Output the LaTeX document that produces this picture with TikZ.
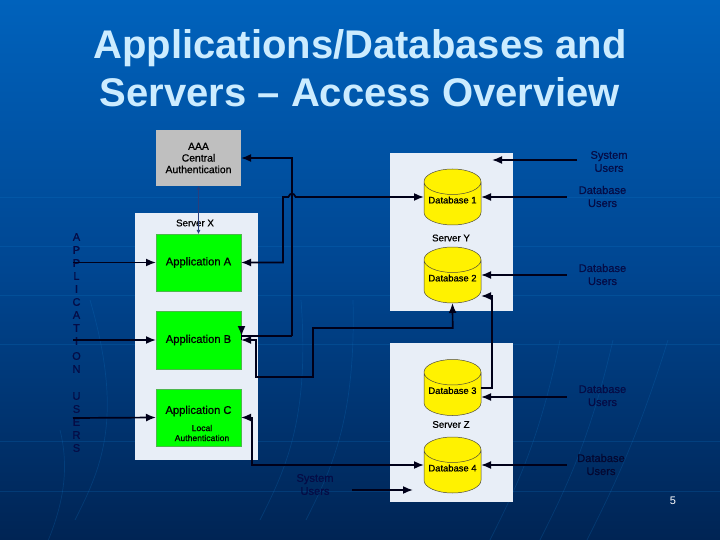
\documentclass[tikz,border=0pt]{standalone}
\usepackage{fontspec}
\setmainfont{Liberation Sans}
\newfontfamily\diafont[FakeBold=0.7]{Liberation Sans}
\usetikzlibrary{arrows.meta,shapes.geometric}
\definecolor{slidetop}{RGB}{0,98,188}
\definecolor{slidemid}{RGB}{0,70,145}
\definecolor{slidebot}{RGB}{0,36,84}
\definecolor{titleblue}{RGB}{204,236,255}
\definecolor{serverfill}{RGB}{232,238,247}
\definecolor{usernavy}{RGB}{5,12,70}
\definecolor{thinlink}{RGB}{40,62,125}
\tikzset{
    x=1pt,y=-1pt,
    every node/.style={inner sep=0pt,outer sep=0pt,align=center},
    serverbox/.style={fill=serverfill,minimum width=123pt},
    appbox/.style={fill=green,draw=green!60!black!70,line width=0.5pt,minimum width=85pt,font=\diafont\fontsize{11.2}{13}\selectfont},
    authbox/.style={fill=black!25,minimum width=85pt,minimum height=56pt,font=\diafont\fontsize{10.4}{11.6}\selectfont},
    dbcyl/.style={shape=cylinder,shape border rotate=90,aspect=0.53,anchor=shape center,draw=black!80!yellow,line width=0.5pt,fill=yellow,
        minimum width=57pt,minimum height=56pt,font=\diafont\fontsize{9.4}{11}\selectfont},
    servername/.style={font=\diafont\fontsize{9.7}{11}\selectfont},
    userlabel/.style={text=usernavy,font=\diafont\fontsize{11.1}{13}\selectfont},
    userletter/.style={text=usernavy,font=\diafont\fontsize{11}{13}\selectfont},
    link/.style={draw=black!90!blue,line width=1.7pt},
    onehead/.style={link,-{Latex[length=10pt,width=8pt]}},
    twohead/.style={link,{Latex[length=10pt,width=8pt]}-{Latex[length=10pt,width=8pt]}},
    faintline/.style={draw=cyan!60!blue,opacity=0.22,line width=0.7pt},
}
\begin{document}
\begin{tikzpicture}
    \useasboundingbox (0,0) rectangle (720,540);
    \shade[top color=slidetop,bottom color=slidebot,middle color=slidemid] (0,0) rectangle (720,540); % 背景
    \foreach \y in {197,246,295,344,441,491}
        \draw[faintline] (0,\y) -- (720,\y);
    \foreach \a/\b/\c/\d in {668/340/637/440,613/340/590/440,560/340/540/440,353/300/356/420,301/300/310/420,90/300/125/420,60/430/75/490}
        \draw[faintline] (\a,\b) .. controls (\c,\d) and (\c-25,\d+50) .. (\c-50,\d+100);

    \node[text=titleblue,font=\bfseries\fontsize{40}{48}\selectfont] (title) at (360,68.5) {Applications/Databases and\\Servers -- Access Overview};

    % 左边竖排文字
    \foreach \ltr/\yy in {A/237,P/250,P/263,L/276,I/289,C/302,A/315,T/328,I/341,O/356,N/369,U/396,S/409,E/422,R/435,S/448}
        \node[userletter] (letter\yy) at (76.5,\yy) {\ltr};

    % 服务器框
    \node[serverbox,minimum height=247pt] (serverx) at (196.5,336.5) {};
    \node[serverbox,minimum height=158pt] (servery) at (451,232) {};
    \node[serverbox,minimum height=159pt] (serverz) at (451,422.5) {};
    \node[servername] (namex) at (195,223) {Server X};
    \node[servername] (namey) at (451,238) {Server Y};
    \node[servername] (namez) at (451,424.5) {Server Z};

    \node[authbox] (aaa) at (198.5,158) {AAA\\Central\\Authentication};
    \node[appbox,minimum height=57pt] (appa) at (198.5,262.5) {Application A};
    \node[appbox,minimum height=58pt] (appb) at (198.5,340) {Application B};
    \node[appbox,minimum height=57pt] (appc) at (198.5,417.5) {};
    \node[font=\diafont\fontsize{11.2}{13}\selectfont] (appcname) at (198.5,411) {Application C};
    \node[font=\diafont\fontsize{8.6}{10}\selectfont] (applocal) at (202,433) {Local\\Authentication};

    \foreach \nm/\yy/\i in {dbone/197/1,dbtwo/275/2,dbthree/387.5/3,dbfour/465/4}
        \node[dbcyl] (\nm) at (452.5,\yy) {\raisebox{7pt}{Database \i}};

    % 用户标签
    \node[userlabel] (sysone) at (609,161.5) {System\\Users};
    \node[userlabel] (dbuone) at (602.5,196.5) {Database\\Users};
    \node[userlabel] (dbutwo) at (602.5,274.5) {Database\\Users};
    \node[userlabel] (dbuthree) at (602.5,395.5) {Database\\Users};
    \node[userlabel,text=usernavy!70!black] (dbufour) at (601,464.5) {Database\\Users};
    \node[userlabel] (systwo) at (315,484.5) {System\\Users};
    \node[text=white,font=\fontsize{11}{13}\selectfont] (pagenum) at (673,501) {5};

    % 连接点
    \coordinate (aaaturn) at (292,158);
    \coordinate (aaabot) at (292,336);
    \coordinate (bturn) at (241.5,336);
    \coordinate (bstub) at (241.5,340);
    \coordinate (btip) at (241.5,328.5);
    \coordinate (ajog) at (283,262.5);
    \coordinate (ajogtop) at (283,197);
    \coordinate (hopleft) at (288.5,197);
    \coordinate (hopright) at (295.5,197);
    \coordinate (dbtwodown) at (452.7,328);
    \coordinate (midtop) at (313,328);
    \coordinate (midbot) at (313,377);
    \coordinate (bbot) at (256,377);
    \coordinate (bright) at (256,340);
    \coordinate (cright) at (252,417.5);
    \coordinate (cbot) at (252,465);
    \coordinate (dbthreeright) at (492,388);
    \coordinate (dbthreeup) at (492,296);
    \coordinate (dbtwocorner) at (481,296);

    \draw[thinlink,line width=0.6pt,{Latex[length=4pt,width=4pt]}-{Latex[length=4pt,width=4pt]}] (aaa.south) -- (appa.north);
    \draw[onehead] (aaabot) -- (aaaturn) -- (aaa.east);
    \draw[link] (aaabot) -- (bturn) -- (bstub);
    \draw[onehead] (btip) -- (bturn);
    \draw[twohead] (appa.east) -- (ajog) -- (ajogtop) -- (hopleft) .. controls (289.5,192.5) and (294.5,192.5) .. (hopright) -- (dbone.west |- hopright);
    \draw[twohead] (dbtwo.south) -- (dbtwodown) -- (midtop) -- (midbot) -- (bbot) -- (bright) -- (appb.east);
    \draw[twohead] (appc.east) -- (cright) -- (cbot) -- (dbfour.west |- cbot);
    \draw[onehead] (dbthree.east |- dbthreeright) -- (dbthreeright) -- (dbthreeup) -- (dbtwocorner);

    % 用户箭头
    \coordinate (sysonefrom) at (577,160);
    \coordinate (sysoneto) at (492,160);
    \draw[onehead] (sysonefrom) -- (sysoneto);
    \foreach \nm/\yy in {dbone/197,dbtwo/275,dbthree/397,dbfour/465}{
        \coordinate (from\nm) at (566.5,\yy);
        \coordinate (to\nm) at (\nm.east |- from\nm);
        \draw[onehead] (from\nm) -- (to\nm);
    }
    \coordinate (systwofrom) at (352,490);
    \coordinate (systwoto) at (413,490);
    \draw[onehead] (systwofrom) -- (systwoto);
    \foreach \nm/\yy in {appa/262.5,appb/340,appc/418}{
        \coordinate (left\nm) at (73,\yy);
        \draw[onehead] (left\nm) -- (\nm.west);
    }
\end{tikzpicture}
\end{document}
